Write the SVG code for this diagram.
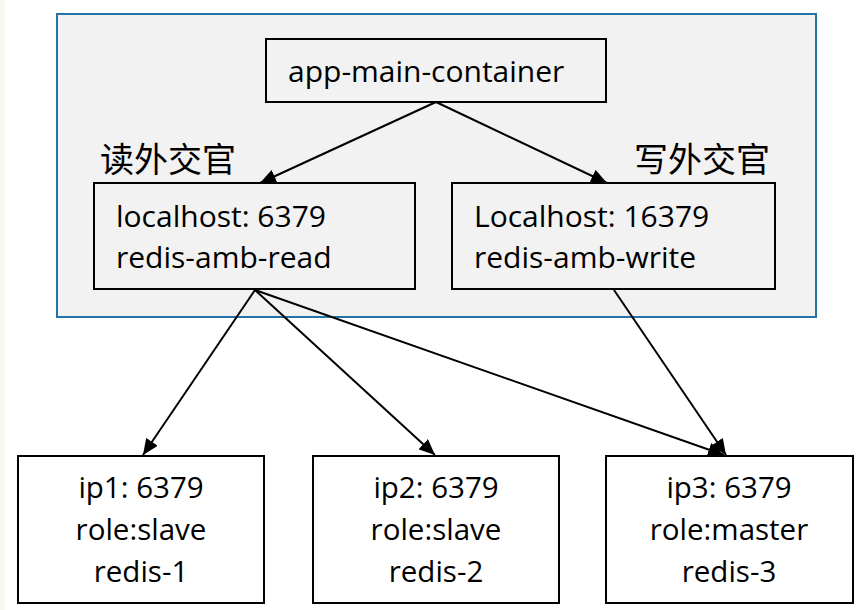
<svg xmlns="http://www.w3.org/2000/svg" width="864" height="610" viewBox="0 0 864 610">
  <style>
    .box { fill: #ffffff; stroke: #000000; stroke-width: 2; }
    .inbox { fill: #f2f2f2; stroke: #000000; stroke-width: 2; }
    .t { font-family: "Open Sans", "Noto Sans CJK SC", sans-serif; font-size: 30px; fill: #000000; }
    .b { font-size: 29.5px; }
    .c { text-anchor: middle; }
    .cjk { font-family: "Noto Sans CJK SC", sans-serif; font-size: 34px; fill: #000000; }
    .edge { stroke: #000000; stroke-width: 2; fill: none; marker-end: url(#arrow); }
  </style>
  <defs>
    <marker id="arrow" markerUnits="userSpaceOnUse" markerWidth="17" markerHeight="14" refX="16" refY="7" orient="auto">
      <path d="M0,0 L16,7 L0,14 z" fill="#000000"/>
    </marker>
  </defs>
  <rect x="0" y="0" width="864" height="610" fill="#ffffff"/>
  <rect x="0" y="0" width="5" height="610" fill="#faf7ef"/>

  <g id="container">
    <rect x="57" y="14" width="759" height="303" fill="#f2f2f2" stroke="#2374a8" stroke-width="2"/>
  </g>

  <g id="app-main-container">
    <rect class="inbox" x="266" y="39" width="340" height="63"/>
    <text class="t" x="288" y="82">app-main-container</text>
  </g>

  <g id="read-label">
    <text class="cjk" x="100" y="172">读外交官</text>
  </g>
  <g id="write-label">
    <text class="cjk" x="634" y="172">写外交官</text>
  </g>

  <g id="redis-amb-read">
    <rect class="inbox" x="94" y="183" width="321" height="106"/>
    <text class="t" x="116" y="227">localhost: 6379</text>
    <text class="t" x="116" y="268">redis-amb-read</text>
  </g>

  <g id="redis-amb-write">
    <rect class="inbox" x="452" y="183" width="323" height="106"/>
    <text class="t" x="474" y="227">Localhost: 16379</text>
    <text class="t" x="474" y="268">redis-amb-write</text>
  </g>

  <g id="redis-1">
    <rect class="box" x="18" y="456" width="246" height="147"/>
    <text class="t b c" x="141" y="498">ip1: 6379</text>
    <text class="t b c" x="141" y="540">role:slave</text>
    <text class="t b c" x="141" y="582">redis-1</text>
  </g>

  <g id="redis-2">
    <rect class="box" x="313" y="456" width="246" height="147"/>
    <text class="t b c" x="436" y="498">ip2: 6379</text>
    <text class="t b c" x="436" y="540">role:slave</text>
    <text class="t b c" x="436" y="582">redis-2</text>
  </g>

  <g id="redis-3">
    <rect class="box" x="606" y="456" width="247" height="147"/>
    <text class="t b c" x="729" y="498">ip3: 6379</text>
    <text class="t b c" x="729" y="540">role:master</text>
    <text class="t b c" x="729" y="582">redis-3</text>
  </g>

  <g id="connectors">
    <line class="edge" x1="436" y1="102" x2="260" y2="183"/>
    <line class="edge" x1="436" y1="102" x2="607" y2="183"/>
    <line class="edge" x1="255" y1="290" x2="143" y2="455"/>
    <line class="edge" x1="255" y1="290" x2="435" y2="455"/>
    <line class="edge" x1="255" y1="290" x2="724" y2="455"/>
    <line class="edge" x1="614" y1="290" x2="726" y2="455"/>
  </g>
</svg>
